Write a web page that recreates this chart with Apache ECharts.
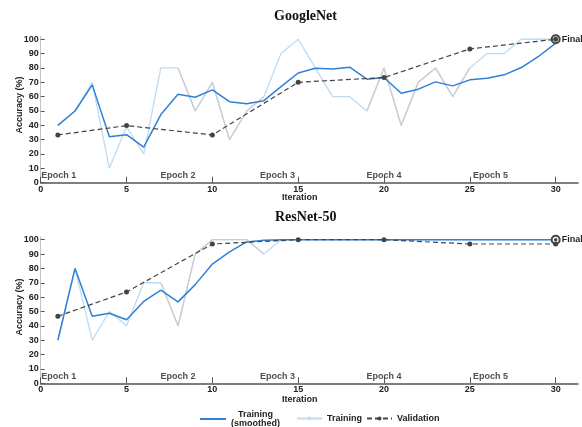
<!DOCTYPE html>
<html>
<head>
<meta charset="utf-8">
<script src="https://cdn.jsdelivr.net/npm/echarts@6/dist/echarts.min.js"></script>
<style>
  html, body { margin: 0; padding: 0; background: #ffffff; }
  #chart { width: 582px; height: 427px; }
</style>
</head>
<body>
<div id="chart"></div>
<script>
// Iterations (x values)
const iterations = [1, 2, 3, 4, 5, 6, 7, 8, 9, 10, 11, 12, 13, 14, 15,
                    16, 17, 18, 19, 20, 21, 22, 23, 24, 25, 26, 27, 28, 29, 30];
const validationIters = [1, 5, 10, 15, 20, 25, 30];

// GoogleNet accuracy (%)
const googTrainSmoothed = [40, 50, 68.2, 32, 33.5, 24.8, 47.5, 61.7, 59.6, 64.7,
                           56.5, 55, 57.2, 67, 76.5, 79.8, 79.2, 80.5, 72.2, 73.3,
                           62.4, 65.2, 70.3, 67.5, 71.7, 72.8, 75.2, 80.3, 88, 97.3];
const googTrainRaw = [40, 50, 70, 10, 39, 20, 80, 80, 50, 70,
                      30, 50, 60, 90, 100, 80, 60, 60, 50, 80,
                      40, 70, 80, 60, 80, 90, 90, 100, 100, 100];
const googValidation = [33.3, 39.8, 33.3, 70, 73.3, 93.3, 100];
const googGreyRanges = [[8, 13], [19, 25]];

// ResNet-50 accuracy (%)
const resTrainSmoothed = [30, 80, 46.7, 48.8, 44.2, 57, 64.8, 56.7, 68.7, 83,
                          91.5, 98.4, 99.6, 100, 100, 100, 100, 100, 100, 100,
                          100, 100, 100, 100, 100, 100, 100, 100, 100, 100];
const resTrainRaw = [30, 80, 30, 50, 40, 70, 70, 40, 90, 100,
                     100, 100, 90, 100, 100, 100, 100, 100, 100, 100,
                     100, 100, 100, 100, 100, 100, 100, 100, 100, 100];
const resValidation = [46.7, 63.6, 97, 100, 100, 97, 97];
const resGreyRanges = [[7, 13]];

// Epoch annotations along the bottom of each panel
const epochLabels = ['Epoch 1', 'Epoch 2', 'Epoch 3', 'Epoch 4', 'Epoch 5'];
const epochLabelX = [1.05, 8, 13.8, 20, 26.2];
const epochLabelY = 4.7;

// Axis tick values
const xTicks = [0, 5, 10, 15, 20, 25, 30];
const yTicks = [0, 10, 20, 30, 40, 50, 60, 70, 80, 90, 100];

const FONT = 'Liberation Sans, Arial, sans-serif';
const TEXT = '#222';
const C_SMOOTH = '#2f80d6';
const C_RAW = '#bcdcf5';
const C_GREY = '#cdcdcd';
const C_VAL = '#444444';

const pairs = (xs, ys) => xs.map((x, i) => [x, ys[i]]);
const greyOverlay = (ys, ranges) => iterations.map((x, i) =>
  [x, ranges.some(r => x >= r[0] && x <= r[1]) ? ys[i] : null]);

function axesFor(idx) {
  return {
    x: {
      type: 'value', gridIndex: idx, min: 0, max: 31.3, interval: 5,
      axisLine: { show: true, lineStyle: { color: '#555', width: 1.5 } },
      axisTick: { show: true, inside: true, length: 6, customValues: xTicks,
                  lineStyle: { color: '#555', width: 1 } },
      axisLabel: { customValues: xTicks, fontSize: 9, fontWeight: 'bold',
                   fontFamily: FONT, color: TEXT, margin: 2 },
      splitLine: { show: false }
    },
    y: {
      type: 'value', gridIndex: idx, min: 0, max: 102, interval: 10,
      axisLine: { show: true, lineStyle: { color: '#c4c4c4', width: 1 } },
      axisTick: { show: true, inside: true, length: 4, customValues: yTicks,
                  lineStyle: { color: '#555', width: 1 } },
      axisLabel: { customValues: yTicks, fontSize: 9, fontWeight: 'bold',
                   fontFamily: FONT, color: TEXT, margin: 2 },
      splitLine: { show: false }
    }
  };
}

function seriesFor(idx, smooth, raw, greyRanges, val) {
  return [
    {
      name: 'Training', type: 'line', xAxisIndex: idx, yAxisIndex: idx,
      data: pairs(iterations, raw), symbol: 'circle', symbolSize: 5, showSymbol: false,
      itemStyle: { color: C_RAW }, lineStyle: { color: C_RAW, width: 1.3 },
      z: 2, silent: true, animation: false
    },
    {
      name: 'Training segments', type: 'line', xAxisIndex: idx, yAxisIndex: idx,
      data: greyOverlay(raw, greyRanges), symbol: 'none', connectNulls: false,
      lineStyle: { color: C_GREY, width: 1.3 }, z: 3, silent: true, animation: false
    },
    {
      name: 'Training (smoothed)', type: 'line', xAxisIndex: idx, yAxisIndex: idx,
      data: pairs(iterations, smooth), symbol: 'none',
      itemStyle: { color: C_SMOOTH }, lineStyle: { color: C_SMOOTH, width: 1.5 },
      z: 4, silent: true, animation: false
    },
    {
      name: 'Validation', type: 'line', xAxisIndex: idx, yAxisIndex: idx,
      data: pairs(validationIters, val), symbol: 'circle', symbolSize: 5,
      itemStyle: { color: C_VAL }, lineStyle: { color: C_VAL, width: 1.2, type: [5, 3] },
      z: 5, silent: true, animation: false,
      markPoint: {
        silent: true, animation: false,
        data: [
          { coord: [iterations[iterations.length - 1], raw[raw.length - 1]],
            symbol: 'emptyCircle', symbolSize: 8,
            itemStyle: { color: C_VAL, borderColor: C_VAL, borderWidth: 1 },
            label: { show: true, position: 'right', distance: 1, formatter: 'Final',
                     fontSize: 9, fontWeight: 'bold', fontFamily: FONT, color: TEXT } },
          { coord: [iterations[iterations.length - 1], raw[raw.length - 1]],
            symbol: 'circle', symbolSize: 3.5, itemStyle: { color: C_VAL },
            label: { show: false } }
        ]
      }
    },
    {
      name: 'epochs', type: 'scatter', xAxisIndex: idx, yAxisIndex: idx,
      data: epochLabels.map((t, i) => ({ value: [epochLabelX[i], epochLabelY], name: t })),
      symbolSize: 0, silent: true, animation: false, z: 6,
      label: { show: true, position: 'inside', formatter: '{b}', fontSize: 9,
               fontWeight: 'bold', fontFamily: FONT, color: TEXT }
    }
  ];
}

const a0 = axesFor(0), a1 = axesFor(1);
const titleStyle = { fontFamily: 'Liberation Serif, Times New Roman, serif',
                     fontWeight: 'bold', fontSize: 14, color: '#111' };
const nameStyle = { fontFamily: FONT, fontWeight: 'bold', fontSize: 9, color: TEXT };
const legendText = { fontFamily: FONT, fontWeight: 'bold', fontSize: 9, color: TEXT };

const option = {
  backgroundColor: '#ffffff',
  animation: false,
  title: [
    { text: 'GoogleNet', left: 274, top: 9, padding: 0, textStyle: titleStyle },
    { text: 'ResNet-50', left: 275, top: 210, padding: 0, textStyle: titleStyle },
    { text: 'Iteration', left: 282, top: 193, padding: 0, textStyle: nameStyle },
    { text: 'Iteration', left: 282, top: 395, padding: 0, textStyle: nameStyle }
  ],
  graphic: [
    { type: 'text', x: 20, y: 105, rotation: Math.PI / 2,
      style: { text: 'Accuracy (%)', align: 'center', verticalAlign: 'middle',
               font: 'bold 9px ' + FONT, fill: TEXT } },
    { type: 'text', x: 20, y: 307, rotation: Math.PI / 2,
      style: { text: 'Accuracy (%)', align: 'center', verticalAlign: 'middle',
               font: 'bold 9px ' + FONT, fill: TEXT } }
  ],
  grid: [
    { left: 40.7, top: 36.4, width: 537.3, height: 146.3 },
    { left: 40.7, top: 236.8, width: 537.3, height: 146.5 }
  ],
  xAxis: [a0.x, a1.x],
  yAxis: [a0.y, a1.y],
  legend: [
    { data: [{ name: 'Training (smoothed)', icon: 'rect' }], left: 200, top: 410, padding: 0,
      itemWidth: 26, itemHeight: 2, itemGap: 0,
      formatter: () => '{c|Training}\n{c|(smoothed)}',
      textStyle: Object.assign({}, legendText, {
        rich: { c: Object.assign({}, legendText, { align: 'center', lineHeight: 9 }) } }) },
    { data: ['Training'], left: 296, top: 414, padding: 0,
      itemWidth: 25, itemHeight: 5, textStyle: legendText },
    { data: ['Validation'], left: 366, top: 414, padding: 0,
      itemWidth: 25, itemHeight: 5, textStyle: legendText }
  ],
  series: [
    ...seriesFor(0, googTrainSmoothed, googTrainRaw, googGreyRanges, googValidation),
    ...seriesFor(1, resTrainSmoothed, resTrainRaw, resGreyRanges, resValidation)
  ]
};

const chart = echarts.init(document.getElementById('chart'), null, { renderer: 'canvas' });
chart.setOption(option);
</script>
</body>
</html>
